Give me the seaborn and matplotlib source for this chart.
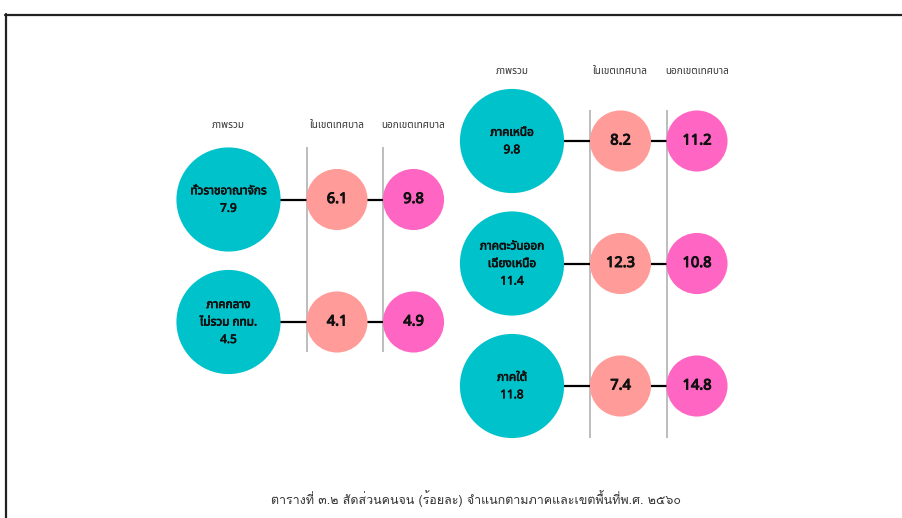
import matplotlib
matplotlib.use("Agg")
import pandas as pd
import seaborn as sns
from matplotlib import pyplot as plt
from matplotlib import patheffects as pe
from matplotlib.lines import Line2D

# poverty ratio (%) by region and area, 2017
regions = ["ทั่วราชอาณาจักร", "ภาคกลาง\nไม่รวม กทม.", "ภาคเหนือ",
           "ภาคตะวันออก\nเฉียงเหนือ", "ภาคใต้"]
total = [7.9, 4.5, 9.8, 11.4, 11.8]
urban = [6.1, 4.1, 8.2, 12.3, 7.4]
rural = [9.8, 4.9, 11.2, 10.8, 14.8]
levels = ["ภาพรวม", "ในเขตเทศบาล", "นอกเขตเทศบาล"]
caption = "ตารางที่ ๓.๒ สัดส่วนคนจน (ร้อยละ) จำแนกตามภาคและเขตพื้นที่พ.ศ. ๒๕๖๐"

# layout (pixel units, y down)
group_of = [0, 0, 1, 1, 1]
row_of = [0, 1, 0, 1, 2]
group_x = [228.5, 512]
group_y = [199.5, 141]
header_y = [125, 72]
vline_span = [(147, 352), (110, 438)]
col_dx = [0, 108.5, 185]
row_dy = 122.5

colors = {levels[0]: "#00C2CB", levels[1]: "#FF9B98", levels[2]: "#FF66C4"}
sizes = {levels[0]: 75 ** 2, levels[1]: 44 ** 2, levels[2]: 44 ** 2}

rows = []
for i, reg in enumerate(regions):
    g, r = group_of[i], row_of[i]
    for j, (lev, val) in enumerate(zip(levels, [total[i], urban[i], rural[i]])):
        rows.append({"region": reg, "level": lev, "value": val, "col": j,
                     "x": group_x[g] + col_dx[j], "y": group_y[g] + r * row_dy})
df = pd.DataFrame(rows)

sns.set_style("white")
thai = ["Noto Sans Thai", "Noto Sans", "DejaVu Sans"]
# Noto Sans Thai has no bold face here, fake it with a thin stroke
bold_small = [pe.withStroke(linewidth=0.5, foreground="#111111")]
bold_big = [pe.withStroke(linewidth=0.75, foreground="#111111")]

fig = plt.figure(figsize=(9.02, 5.18), dpi=100)
ax = fig.add_axes([0, 0, 1, 1])

# grey separators at column edges
for g in range(2):
    for j in (1, 2):
        ax.vlines(group_x[g] + col_dx[j] - 30.5, *vline_span[g],
                  color="#BDBDBD", lw=1.4, zorder=1)

# connectors
sns.lineplot(data=df, x="x", y="y", units="region", estimator=None, sort=False,
             color="black", lw=1.6, ax=ax, zorder=2, legend=False)

sns.scatterplot(data=df, x="x", y="y", hue="level", palette=colors,
                size="level", sizes=sizes, linewidth=0, alpha=1,
                legend=False, ax=ax, zorder=3)
ax.set_xlim(0, 902)
ax.set_ylim(518, 0)
ax.axis("off")

for _, d in df.iterrows():
    if d["col"] == 0:
        ax.text(d["x"], d["y"], f"{d['region']}\n{d['value']:.1f}",
                ha="center", va="center", fontsize=8.5, family=thai,
                linespacing=1.45, color="#111111", zorder=4,
                path_effects=bold_small)
    else:
        ax.text(d["x"], d["y"], f"{d['value']:.1f}", ha="center", va="center",
                fontsize=10.5, family=thai, color="#111111", zorder=4,
                path_effects=bold_big)

for g in range(2):
    for j, lev in enumerate(levels):
        ax.text(group_x[g] + col_dx[j], header_y[g], lev, ha="center",
                va="center", fontsize=7.2, family=thai, color="#333333")

ax.text(476, 499, caption, ha="center", va="center", fontsize=9,
        family=["Loma", "DejaVu Sans"], color="#333333")

# page frame
fig.add_artist(Line2D([5 / 902, 1], [1 - 14.5 / 518] * 2, color="#222222", lw=1.6))
fig.add_artist(Line2D([5.5 / 902] * 2, [0, 1 - 14 / 518], color="#222222", lw=1.6))

fig.savefig("out.png", dpi=100)
